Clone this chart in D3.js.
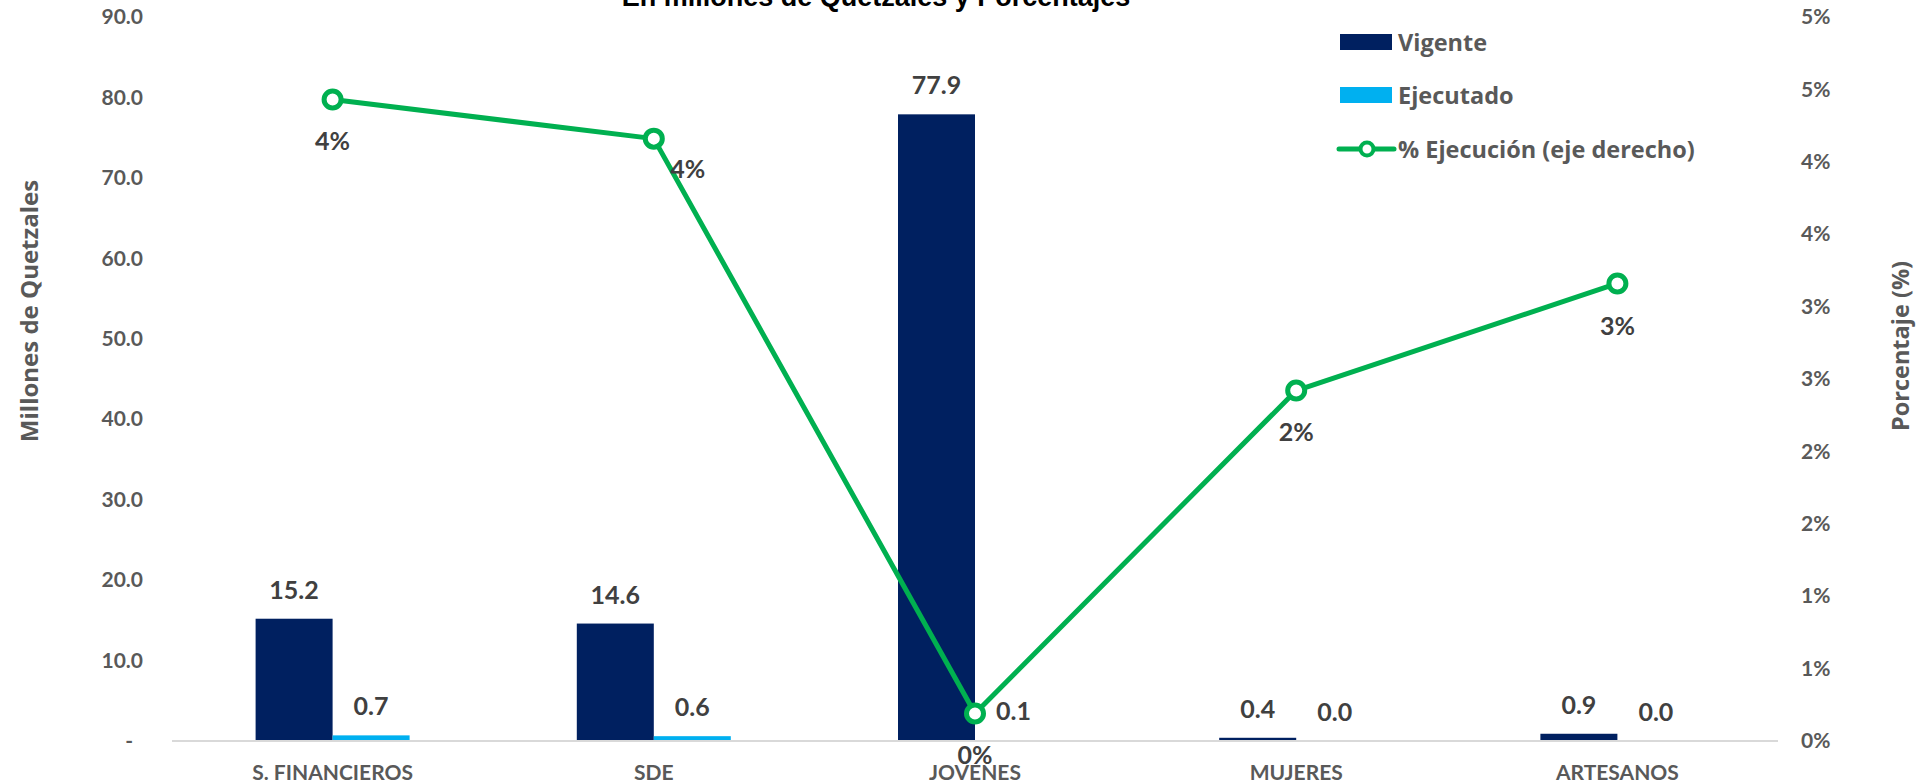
<!DOCTYPE html>
<html><head><meta charset="utf-8">
<script src="https://cdn.jsdelivr.net/npm/d3@7"></script>
<style>body{margin:0;background:#fff;overflow:hidden}</style>
</head><body><svg id="chart" width="1916" height="784"></svg>
<script>
const categories = ["S. FINANCIEROS","SDE","JOVENES","MUJERES","ARTESANOS"];
const vigente = [15.2,14.6,77.9,0.4,0.9];
const ejecutado = [0.7,0.6,0.1,0.0,0.0];
const ejecucionPct = [4.43,4.16,0.19,2.42,3.16];
const leftTicks = [0,10,20,30,40,50,60,70,80,90];
const rightTicks = [0,0.5,1,1.5,2,2.5,3,3.5,4,4.5,5];
const seriesNames = ["Vigente","Ejecutado","% Ejecución (eje derecho)"];
const titleText = "En millones de Quetzales y Porcentajes";
const yTitleLeft = "Millones de Quetzales";
const yTitleRight = "Porcentaje (%)";

// styling (not data)
const colors = {vig:"#002060", eje:"#00B0F0", line:"#00B050", tick:"#595959", label:"#404040", axis:"#D9D9D9"};
const pctLabelOffset = [[0,40],[34,29],[0,41],[0,40],[0,42]];
const numFont = "Lato, 'Open Sans', sans-serif";
const txtFont = "'Open Sans', sans-serif";

const svg = d3.select("#chart");
const plot = {left:172, right:1778, top:17, bottom:741};

const x = d3.scaleBand().domain(categories).range([plot.left, plot.right]).padding(0);
const barW = 77;
const x1 = d3.scaleBand().domain(["v","e"]).range([x.bandwidth()/2 - barW, x.bandwidth()/2 + barW]).padding(0);
const yL = d3.scaleLinear().domain([0,90]).range([plot.bottom, plot.top]);
const yR = d3.scaleLinear().domain([0,5]).range([plot.bottom, plot.top]);

// title (partially cut off at top)
svg.append("text").attr("x",876).attr("y",6).attr("text-anchor","middle")
  .attr("font-family","'Liberation Sans', Arial, sans-serif").attr("font-weight","bold")
  .attr("font-size",27).attr("fill","#000").text(titleText);

// left axis
const gL = svg.append("g").attr("transform",`translate(143,0)`)
  .call(d3.axisLeft(yL).tickValues(leftTicks).tickSize(0).tickPadding(0)
    .tickFormat(d => d === 0 ? "-" : d3.format(".1f")(d)));
gL.select(".domain").remove();
gL.selectAll("text").attr("font-family",numFont).attr("font-weight","bold")
  .attr("font-size",21).attr("fill",colors.tick)
  .attr("dx", d => d === 0 ? -10 : 0);

// right axis
const gR = svg.append("g").attr("transform",`translate(1801,0)`)
  .call(d3.axisRight(yR).tickValues(rightTicks).tickSize(0).tickPadding(0)
    .tickFormat(d => Math.round(d) + "%"));
gR.select(".domain").remove();
gR.selectAll("text").attr("font-family",numFont).attr("font-weight","bold")
  .attr("font-size",21).attr("fill",colors.tick);

// axis titles
svg.append("text").attr("transform","translate(28,311) rotate(-90)")
  .attr("text-anchor","middle").attr("dominant-baseline","central")
  .attr("font-family",txtFont).attr("font-weight","bold").attr("font-size",24)
  .attr("fill",colors.tick).text(yTitleLeft);
svg.append("text").attr("transform","translate(1900,346) rotate(-90)")
  .attr("text-anchor","middle").attr("dominant-baseline","central")
  .attr("font-family",txtFont).attr("font-weight","bold").attr("font-size",23.5)
  .attr("fill",colors.tick).text(yTitleRight);

// bars
const groups = svg.append("g").selectAll("g").data(categories).join("g")
  .attr("transform", d => `translate(${x(d)},0)`);
groups.append("rect").attr("x", x1("v")).attr("width", x1.bandwidth())
  .attr("y", (d,i) => yL(vigente[i])).attr("height", (d,i) => yL(0) - yL(vigente[i]))
  .attr("fill", colors.vig);
groups.append("rect").attr("x", x1("e")).attr("width", x1.bandwidth())
  .attr("y", (d,i) => yL(ejecutado[i])).attr("height", (d,i) => yL(0) - yL(ejecutado[i]))
  .attr("fill", colors.eje);

// x axis line
svg.append("line").attr("x1",plot.left).attr("x2",plot.right)
  .attr("y1",yL(0)).attr("y2",yL(0)).attr("stroke",colors.axis).attr("stroke-width",2);

// bar labels
groups.append("text").attr("x", x1("v") + x1.bandwidth()/2)
  .attr("y", (d,i) => yL(vigente[i]) - 20).attr("text-anchor","middle")
  .attr("font-family",numFont).attr("font-weight","bold").attr("font-size",25)
  .attr("fill",colors.label).text((d,i) => d3.format(".1f")(vigente[i]));
groups.append("text").attr("x", x1("e") + x1.bandwidth()/2)
  .attr("y", (d,i) => yL(ejecutado[i]) - 20).attr("text-anchor","middle")
  .attr("font-family",numFont).attr("font-weight","bold").attr("font-size",25)
  .attr("fill",colors.label).text((d,i) => d3.format(".1f")(ejecutado[i]));

// category labels
svg.append("g").selectAll("text").data(categories).join("text")
  .attr("x", d => x(d) + x.bandwidth()/2).attr("y", 780).attr("text-anchor","middle")
  .attr("font-family",numFont).attr("font-weight","bold").attr("font-size",21)
  .attr("fill",colors.tick).text(d => d);

// line
const cx = i => x(categories[i]) + x.bandwidth()/2;
const line = d3.line().x((d,i) => cx(i)).y(d => yR(d));
svg.append("path").datum(ejecucionPct).attr("d", line).attr("fill","none")
  .attr("stroke",colors.line).attr("stroke-width",5).attr("stroke-linejoin","round");
svg.append("g").selectAll("circle").data(ejecucionPct).join("circle")
  .attr("cx",(d,i)=>cx(i)).attr("cy",d=>yR(d)).attr("r",8.5)
  .attr("fill","#fff").attr("stroke",colors.line).attr("stroke-width",5);
svg.append("g").selectAll("text").data(ejecucionPct).join("text")
  .attr("x",(d,i)=>cx(i)+pctLabelOffset[i][0]).attr("y",(d,i)=>yR(d)+pctLabelOffset[i][1])
  .attr("text-anchor","middle").attr("dominant-baseline","central")
  .attr("font-family",numFont).attr("font-weight","bold").attr("font-size",25)
  .attr("fill",colors.label).text(d => Math.round(d) + "%");

// legend
const lg = svg.append("g");
const legY = [42, 95, 149];
lg.append("rect").attr("x",1340).attr("y",legY[0]-8).attr("width",52).attr("height",16).attr("fill",colors.vig);
lg.append("rect").attr("x",1340).attr("y",legY[1]-8).attr("width",52).attr("height",16).attr("fill",colors.eje);
lg.append("line").attr("x1",1339).attr("x2",1394).attr("y1",legY[2]).attr("y2",legY[2])
  .attr("stroke",colors.line).attr("stroke-width",5).attr("stroke-linecap","round");
lg.append("circle").attr("cx",1367).attr("cy",legY[2]).attr("r",6.5)
  .attr("fill","#fff").attr("stroke",colors.line).attr("stroke-width",4);
lg.selectAll("text.leg").data(seriesNames).join("text").attr("class","leg")
  .attr("x",1398).attr("y",(d,i)=>legY[i]).attr("dominant-baseline","central")
  .attr("font-family",txtFont).attr("font-weight","bold").attr("font-size",23.5)
  .attr("fill",colors.tick).text(d=>d);
</script></body></html>
